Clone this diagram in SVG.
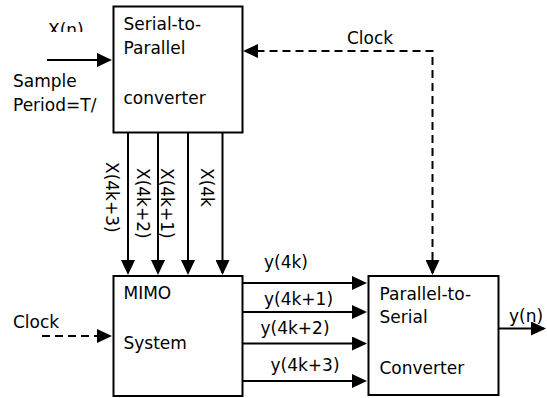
<svg xmlns="http://www.w3.org/2000/svg" width="547" height="398" viewBox="0 0 547 398">
<style>
  text { font-family: "DejaVu Sans", Verdana, sans-serif; font-size: 17px; fill: #000; }
  .box { fill: #fff; stroke: #000; stroke-width: 2; }
  .ln { stroke: #000; stroke-width: 2; fill: none; }
  .dash { stroke: #000; stroke-width: 2; fill: none; stroke-dasharray: 8 5; }
</style>
<defs>
  <marker id="ah" viewBox="0 0 15 14" refX="13" refY="7" markerWidth="15" markerHeight="14" markerUnits="userSpaceOnUse" orient="auto">
    <path d="M0,0 L15,7 L0,14 z" fill="#000"/>
  </marker>
  <clipPath id="clipXn"><rect x="0" y="0" width="110" height="32"/></clipPath>
</defs>
<rect width="547" height="398" fill="#fff"/>

<g id="connectors">
  <line class="ln" x1="47" y1="60" x2="110" y2="60" marker-end="url(#ah)"/>
  <line class="ln" x1="128" y1="132" x2="128" y2="273" marker-end="url(#ah)"/>
  <line class="ln" x1="158" y1="132" x2="158" y2="273" marker-end="url(#ah)"/>
  <line class="ln" x1="188" y1="132" x2="188" y2="273" marker-end="url(#ah)"/>
  <line class="ln" x1="222.5" y1="132" x2="222.5" y2="273" marker-end="url(#ah)"/>
  <polyline class="dash" points="432.5,273 432.5,51 258,51"/>
  <line class="ln" x1="250" y1="51" x2="245" y2="51" marker-end="url(#ah)"/>
  <line class="dash" x1="42" y1="336" x2="104" y2="336"/>
  <line class="ln" x1="104" y1="336" x2="110" y2="336" marker-end="url(#ah)"/>
  <line class="ln" x1="243" y1="283" x2="365" y2="283" marker-end="url(#ah)"/>
  <line class="ln" x1="243" y1="312" x2="365" y2="312" marker-end="url(#ah)"/>
  <line class="ln" x1="243" y1="343.5" x2="365" y2="343.5" marker-end="url(#ah)"/>
  <line class="ln" x1="243" y1="381" x2="365" y2="381" marker-end="url(#ah)"/>
  <line class="ln" x1="499" y1="328.5" x2="544" y2="328.5" marker-end="url(#ah)"/>
  <line class="ln" x1="432.5" y1="262" x2="432.5" y2="273" marker-end="url(#ah)"/>
</g>

<g id="labels">
  <text x="48" y="36" clip-path="url(#clipXn)">X(n)</text>
  <text x="13" y="87">Sample</text>
  <text x="13" y="110.5">Period=T/</text>
  <text transform="translate(106,162) rotate(90)">X(4k+3)</text>
  <text transform="translate(137,168) rotate(90)">X(4k+2)</text>
  <text transform="translate(161,168) rotate(90)">X(4k+1)</text>
  <text transform="translate(201,168) rotate(90)">X(4k</text>
  <text x="347" y="43.5">Clock</text>
  <text x="13" y="328">Clock</text>
  <text x="264" y="267.5">y(4k)</text>
  <text x="264" y="305">y(4k+1)</text>
  <text x="260.5" y="334">y(4k+2)</text>
  <text x="270.5" y="371">y(4k+3)</text>
  <text x="509" y="322">y(n)</text>
</g>

<g id="serial-to-parallel">
  <rect class="box" x="113.5" y="6.5" width="129" height="126"/>
  <text x="123.5" y="29.5">Serial-to-</text>
  <text x="123.5" y="53.5">Parallel</text>
  <text x="123.5" y="103.5">converter</text>
</g>

<g id="mimo">
  <rect class="box" x="113.5" y="276" width="129" height="120"/>
  <text x="123.5" y="299">MIMO</text>
  <text x="123.5" y="349">System</text>
</g>

<g id="parallel-to-serial">
  <rect class="box" x="368.5" y="276" width="130" height="119"/>
  <text x="379.5" y="299.5">Parallel-to-</text>
  <text x="379.5" y="323">Serial</text>
  <text x="379.5" y="373.5">Converter</text>
</g>
</svg>
